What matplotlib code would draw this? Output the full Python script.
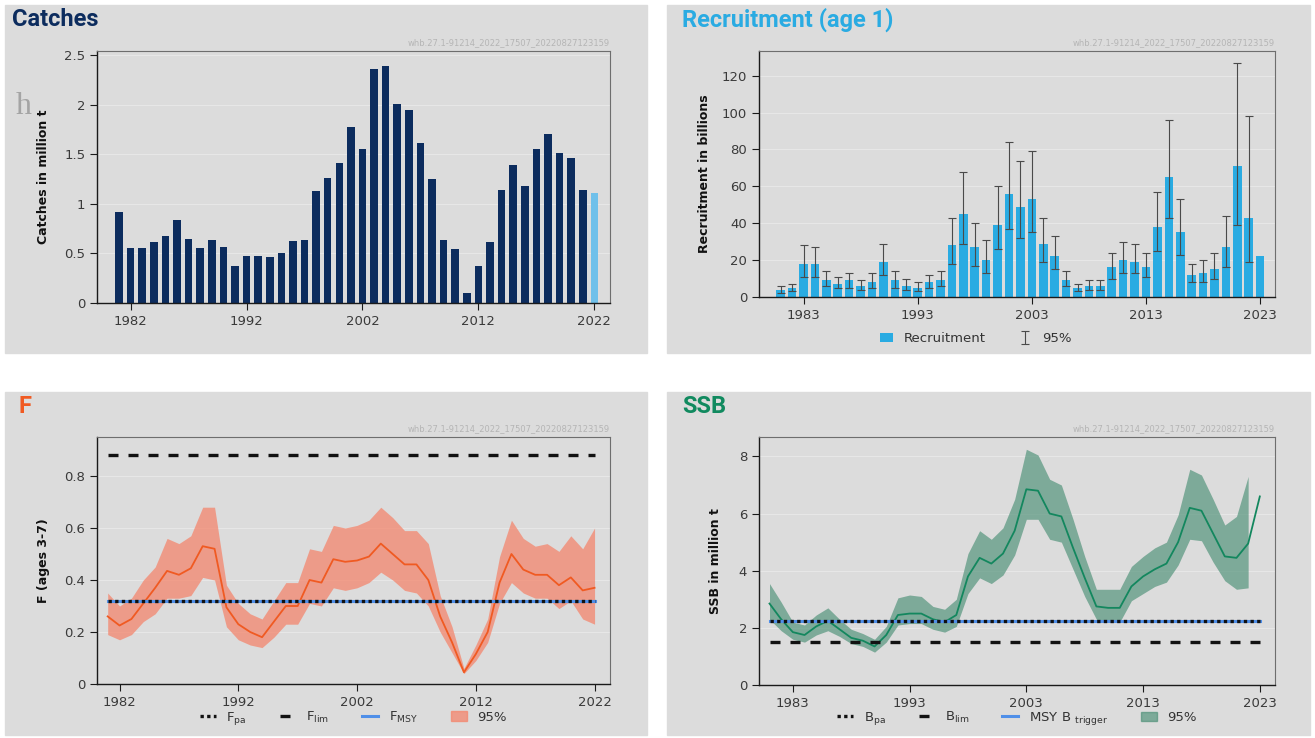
import matplotlib
matplotlib.use("Agg")
import matplotlib.pyplot as plt
import numpy as np
from matplotlib.patches import Rectangle
from matplotlib.lines import Line2D
from matplotlib.ticker import FuncFormatter

W, H = 1315, 738

# ---- data ----
catch_years = list(range(1981, 2023))
catches = [0.92, 0.55, 0.55, 0.61, 0.68, 0.84, 0.65, 0.55, 0.63, 0.56,
           0.37, 0.47, 0.47, 0.46, 0.50, 0.62, 0.64, 1.13, 1.26, 1.41,
           1.77, 1.55, 2.36, 2.39, 2.01, 1.95, 1.61, 1.25, 0.63, 0.54,
           0.10, 0.37, 0.61, 1.14, 1.39, 1.18, 1.55, 1.70, 1.51, 1.46,
           1.14, 1.11]

rec_years = list(range(1981, 2024))
recruitment = [4, 5, 18, 18, 9, 7, 9, 6, 8, 19,
               9, 6, 5, 8, 9, 28, 45, 27, 20, 39,
               56, 49, 53, 29, 22, 9, 5, 6, 6, 16,
               20, 19, 16, 38, 65, 35, 12, 13, 15, 27,
               71, 43, 22]
rec_low = [2, 3, 11, 11, 6, 5, 5, 4, 5, 12,
           5, 4, 3, 5, 6, 18, 29, 17, 13, 26,
           37, 32, 35, 19, 15, 6, 3, 4, 4, 10,
           13, 13, 11, 25, 43, 23, 8, 8, 10, 16,
           39, 19]
rec_high = [6, 7, 28, 27, 14, 11, 13, 9, 13, 29,
            14, 10, 8, 12, 14, 43, 68, 40, 31, 60,
            84, 74, 79, 43, 33, 14, 7, 9, 9, 24,
            30, 29, 24, 57, 96, 53, 18, 20, 24, 44,
            127, 98]

f_years = list(range(1981, 2023))
f_val = [0.26, 0.225, 0.25, 0.31, 0.37, 0.435, 0.42, 0.445, 0.53, 0.52,
         0.295, 0.23, 0.20, 0.18, 0.24, 0.30, 0.30, 0.40, 0.39, 0.48,
         0.47, 0.475, 0.49, 0.54, 0.50, 0.46, 0.46, 0.40, 0.26, 0.16,
         0.045, 0.115, 0.20, 0.39, 0.50, 0.44, 0.42, 0.42, 0.38, 0.41,
         0.36, 0.37]
f_low = [0.19, 0.17, 0.19, 0.24, 0.27, 0.33, 0.33, 0.34, 0.41, 0.40,
         0.22, 0.17, 0.15, 0.14, 0.18, 0.23, 0.23, 0.31, 0.30, 0.37,
         0.36, 0.37, 0.39, 0.43, 0.40, 0.36, 0.35, 0.30, 0.20, 0.12,
         0.04, 0.09, 0.16, 0.31, 0.39, 0.35, 0.33, 0.33, 0.29, 0.32,
         0.25, 0.23]
f_high = [0.35, 0.30, 0.33, 0.40, 0.45, 0.56, 0.54, 0.57, 0.68, 0.68,
          0.38, 0.31, 0.27, 0.25, 0.32, 0.39, 0.39, 0.52, 0.51, 0.61,
          0.60, 0.61, 0.63, 0.68, 0.64, 0.59, 0.59, 0.54, 0.34, 0.22,
          0.06, 0.15, 0.25, 0.49, 0.63, 0.56, 0.53, 0.54, 0.51, 0.57,
          0.52, 0.60]
f_pa, f_lim, f_msy = 0.32, 0.88, 0.32

ssb_years = list(range(1981, 2024))
ssb = [2.85, 2.3, 1.85, 1.75, 2.05, 2.25, 1.95, 1.65, 1.55, 1.35,
       1.75, 2.45, 2.5, 2.5, 2.3, 2.2, 2.45, 3.8, 4.45, 4.25,
       4.6, 5.4, 6.85, 6.8, 6.0, 5.9, 4.8, 3.75, 2.75, 2.7,
       2.7, 3.45, 3.8, 4.05, 4.25, 5.0, 6.2, 6.1, 5.3, 4.5,
       4.45, 4.95, 6.6]
ssb_low = [2.3, 1.9, 1.6, 1.5, 1.75, 1.9, 1.7, 1.45, 1.35, 1.15,
           1.5, 2.1, 2.15, 2.15, 1.95, 1.85, 2.05, 3.2, 3.75, 3.55,
           3.85, 4.55, 5.8, 5.8, 5.1, 5.0, 4.05, 3.1, 2.3, 2.2,
           2.2, 2.95, 3.2, 3.45, 3.6, 4.2, 5.1, 5.05, 4.3, 3.65,
           3.35, 3.4]
ssb_high = [3.55, 2.9, 2.2, 2.1, 2.45, 2.7, 2.3, 1.95, 1.8, 1.6,
            2.05, 3.05, 3.15, 3.1, 2.75, 2.65, 3.0, 4.6, 5.4, 5.1,
            5.5, 6.5, 8.25, 8.05, 7.2, 7.0, 5.8, 4.5, 3.35, 3.35,
            3.35, 4.15, 4.5, 4.8, 5.0, 5.95, 7.55, 7.35, 6.5, 5.6,
            5.9, 7.3]
b_pa, b_lim, b_trigger = 2.25, 1.5, 2.25

watermark = "whb.27.1-91214_2022_17507_20220827123159"

# ---- style ----
PANEL = "#dcdcdc"
TICK_COL = "#3a3a3a"
plt.rcParams["font.family"] = ["DejaVu Sans"]


def px_rect(left, right, top, bottom):
    return [left / W, 1 - bottom / H, (right - left) / W, (bottom - top) / H]


def style_axes(ax, yticks, xticks):
    ax.set_facecolor(PANEL)
    for s in ["top", "right"]:
        ax.spines[s].set_color("#6e6e6e")
        ax.spines[s].set_linewidth(0.8)
    for s in ["left", "bottom"]:
        ax.spines[s].set_color("#1a1a1a")
        ax.spines[s].set_linewidth(1.0)
    ax.set_yticks(yticks)
    ax.set_xticks(xticks)
    ax.yaxis.set_major_formatter(FuncFormatter(lambda v, p: f"{v:g}"))
    ax.tick_params(direction="out", length=5, width=0.8, colors="#1a1a1a",
                   labelcolor=TICK_COL, labelsize=9.5)
    ax.grid(axis="y", color="#e8e8e8", lw=0.7)
    ax.set_axisbelow(True)
    ax.text(1.0, 1.015, watermark, transform=ax.transAxes, ha="right",
            va="bottom", fontsize=6, color="#b5b5b5")


fig = plt.figure(figsize=(W / 100, H / 100), dpi=100)
fig.patch.set_facecolor("white")

# panel backgrounds
for (x0, y0, x1, y1) in [(5, 5, 647, 353), (667, 5, 1310, 353),
                         (5, 392, 647, 735), (667, 392, 1310, 735)]:
    fig.patches.append(Rectangle((x0 / W, 1 - y1 / H), (x1 - x0) / W, (y1 - y0) / H,
                                 transform=fig.transFigure, color=PANEL, zorder=-5))

title_kw = dict(fontsize=17, fontweight="bold", family=["Roboto", "DejaVu Sans"],
                va="center", ha="left")
fig.text(12 / W, 1 - 20 / H, "Catches", color="#0c2c5e", **title_kw)
fig.text(682 / W, 1 - 20 / H, "Recruitment (age 1)", color="#2aabe2", **title_kw)
fig.text(18 / W, 1 - 407 / H, "F", color="#f05a22", **title_kw)
fig.text(682 / W, 1 - 407 / H, "SSB", color="#118a5f", **title_kw)
fig.text(16 / W, 1 - 114 / H, "h", family="Liberation Serif", fontsize=23,
         color="#a4a4a4", va="baseline")

ylab_kw = dict(fontsize=9, fontweight="bold", color="#111111")

# ---- Catches ----
ax1 = fig.add_axes(px_rect(97, 610, 51, 303))
bar_cols = ["#0c2c5e"] * (len(catch_years) - 1) + ["#6fc0ea"]
ax1.bar(catch_years, catches, width=0.65, color=bar_cols, zorder=2)
ax1.set_xlim(1979.1, 2023.35)
ax1.set_ylim(0, 2.54)
style_axes(ax1, [0, 0.5, 1, 1.5, 2, 2.5], [1982, 1992, 2002, 2012, 2022])
ax1.set_ylabel("Catches in million t", labelpad=10, **ylab_kw)

# ---- Recruitment ----
ax2 = fig.add_axes(px_rect(759, 1275, 51, 297))
ax2.bar(rec_years, recruitment, width=0.75, color="#29abe2", zorder=2,
        label="Recruitment")
n_err = len(rec_low)
r_mid = np.array(recruitment[:n_err])
yerr = [r_mid - np.array(rec_low), np.array(rec_high) - r_mid]
ax2.errorbar(rec_years[:n_err], r_mid, yerr=yerr, fmt="none", ecolor="#4a4a4a",
             elinewidth=0.8, capsize=3, capthick=0.8, zorder=3, label="95%")
ax2.set_xlim(1979.1, 2024.3)
ax2.set_ylim(0, 133.4)
style_axes(ax2, [0, 20, 40, 60, 80, 100, 120], [1983, 1993, 2003, 2013, 2023])
ax2.set_ylabel("Recruitment in billions", labelpad=8, **ylab_kw)
ax2.legend(loc="center", bbox_to_anchor=(0.42, -0.168), ncol=2, frameon=False,
           fontsize=9.5, labelcolor="#333333", handlelength=1.0, columnspacing=2.5)

# ---- F ----
ax3 = fig.add_axes(px_rect(97, 610, 437, 684))
ax3.fill_between(f_years, f_low, f_high, color="#f4866d", alpha=0.75, lw=0,
                 zorder=2, label="95%")
ax3.plot(f_years, f_val, color="#f05a22", lw=1.3, zorder=3)
x_ref = [f_years[0], f_years[-1]]
ax3.plot(x_ref, [f_msy, f_msy], color="#4f8fe8", lw=2.2, zorder=4)
ax3.plot(x_ref, [f_pa, f_pa], color="#111111", lw=2.4, ls=(0, (1, 1)), zorder=5)
ax3.plot(x_ref, [f_lim, f_lim], color="#111111", lw=2.4, ls=(0, (3, 3)), zorder=5)
ax3.set_xlim(1980.1, 2023.3)
ax3.set_ylim(0, 0.95)
style_axes(ax3, [0, 0.2, 0.4, 0.6, 0.8], [1982, 1992, 2002, 2012, 2022])
ax3.set_ylabel("F (ages 3-7)", labelpad=10, **ylab_kw)
f_handles = [Line2D([], [], color="#111111", lw=2.4, ls=(0, (1, 1))),
             Line2D([], [], color="#111111", lw=2.4, ls=(0, (3, 3))),
             Line2D([], [], color="#4f8fe8", lw=2.2),
             Rectangle((0, 0), 1, 1, color="#f4866d", alpha=0.75)]
ax3.legend(f_handles, [r"F$_{\rm pa}$", r"F$_{\rm lim}$", r"F$_{\rm MSY}$", "95%"],
           loc="center", bbox_to_anchor=(0.5, -0.138), ncol=4, frameon=False,
           fontsize=9.5, labelcolor="#333333", handlelength=1.2, columnspacing=2.5)

# ---- SSB ----
ax4 = fig.add_axes(px_rect(759, 1275, 437, 685))
n_ci = len(ssb_low)
ax4.fill_between(ssb_years[:n_ci], ssb_low, ssb_high, color="#4a8f75", alpha=0.65,
                 lw=0, zorder=2, label="95%")
ax4.plot(ssb_years, ssb, color="#13875e", lw=1.3, zorder=3)
x_ref = [ssb_years[0], ssb_years[-1]]
ax4.plot(x_ref, [b_trigger, b_trigger], color="#4f8fe8", lw=2.2, zorder=4)
ax4.plot(x_ref, [b_pa, b_pa], color="#111111", lw=2.4, ls=(0, (1, 1)), zorder=5)
ax4.plot(x_ref, [b_lim, b_lim], color="#111111", lw=2.4, ls=(0, (3, 3)), zorder=5)
ax4.set_xlim(1980.1, 2024.3)
ax4.set_ylim(0, 8.68)
style_axes(ax4, [0, 2, 4, 6, 8], [1983, 1993, 2003, 2013, 2023])
ax4.set_ylabel("SSB in million t", labelpad=12, **ylab_kw)
b_handles = [Line2D([], [], color="#111111", lw=2.4, ls=(0, (1, 1))),
             Line2D([], [], color="#111111", lw=2.4, ls=(0, (3, 3))),
             Line2D([], [], color="#4f8fe8", lw=2.2),
             Rectangle((0, 0), 1, 1, color="#4a8f75", alpha=0.65)]
ax4.legend(b_handles, [r"B$_{\rm pa}$", r"B$_{\rm lim}$", r"MSY B $_{\rm trigger}$", "95%"],
           loc="center", bbox_to_anchor=(0.5, -0.135), ncol=4, frameon=False,
           fontsize=9.5, labelcolor="#333333", handlelength=1.2, columnspacing=2.5)

fig.savefig("out.png", dpi=100, facecolor="white")
